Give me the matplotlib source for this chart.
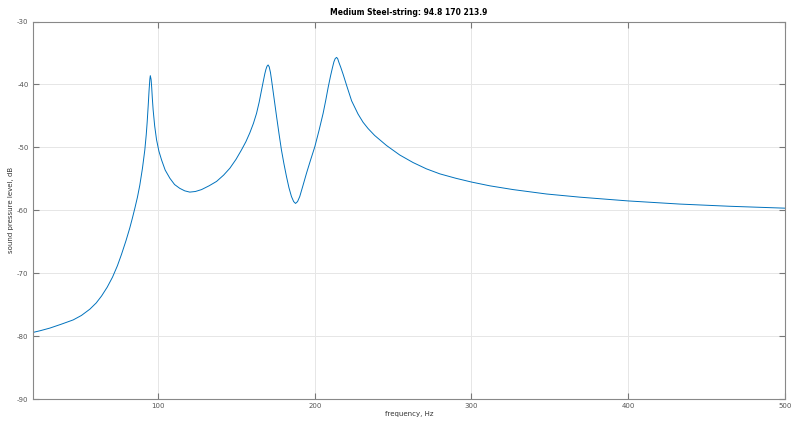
import matplotlib
matplotlib.use('Agg')
import matplotlib.pyplot as plt

plt.rcParams['axes.unicode_minus'] = False

# frequency (Hz) and sound pressure level (dB)
freq = [20, 25.0, 30.9, 38.0, 45.8, 51.0, 56.4, 60.5, 63.9, 67.5, 70.9, 74.0, 76.6,
        79.5, 81.9, 83.6, 85.2, 86.8, 88.3, 90.0, 91.5, 92.4, 93.0, 93.7, 94.2, 94.7,
        95.0, 95.5, 95.9, 96.3, 96.8, 97.8, 99.0, 100.5, 102.2, 104.5, 107.5, 110.5,
        113.8, 117.0, 120.2, 123.8, 127.7, 132.5, 137.3, 141.8, 145.8, 149.7, 153.2,
        156.0, 158.5, 160.8, 162.8, 164.5, 166.0, 167.2, 168.1, 168.8, 169.5, 170.2,
        170.9, 171.7, 172.4, 174.0, 175.6, 177.2, 178.7, 180.3, 181.9, 183.5, 185.1,
        186.5, 187.7, 189.0, 190.4, 192.4, 194.7, 197.3, 200.0, 202.7, 205.3, 207.0,
        208.5, 210.0, 211.2, 212.2, 213.0, 213.9, 214.6, 215.4, 216.6, 218.1, 220.5,
        223.5, 227.6, 230.8, 234.0, 238.2, 245.8, 254.2, 262.7, 271.2, 279.8,
        290.0, 300.0, 311.7, 326.6, 347.9, 369.1, 400.0, 433.0, 464.9, 500.0]
spl = [-79.4, -79.1, -78.7, -78.1, -77.4, -76.7, -75.7, -74.7, -73.6, -72.2, -70.6,
       -68.8, -67.0, -64.8, -62.8, -61.2, -59.6, -57.9, -56.0, -53.3, -50.4, -48.0,
       -46.0, -43.2, -41.0, -39.2, -38.6, -39.2, -40.5, -42.2, -44.0, -46.6, -48.8,
       -50.6, -52.0, -53.6, -54.9, -55.9, -56.5, -56.9, -57.1, -57.0, -56.7, -56.1,
       -55.4, -54.4, -53.3, -51.9, -50.4, -49.1, -47.7, -46.2, -44.6, -42.8, -40.9,
       -39.4, -38.3, -37.6, -37.1, -36.9, -37.2, -38.1, -39.3, -42.2, -45.1, -47.9,
       -50.4, -52.6, -54.6, -56.4, -57.8, -58.6, -58.9, -58.6, -57.8, -56.1, -54.1,
       -52.0, -49.9, -47.3, -44.6, -42.5, -40.5, -38.7, -37.4, -36.4, -35.9, -35.7,
       -35.9, -36.5, -37.3, -38.4, -40.3, -42.6, -44.7, -46.0, -47.0, -48.1, -49.7,
       -51.2, -52.4, -53.4, -54.2, -54.9, -55.5, -56.1, -56.7, -57.4, -57.9, -58.5,
       -59.0, -59.35, -59.65]

xticks = [100, 200, 300, 400, 500]
yticks = [-90, -80, -70, -60, -50, -40, -30]

fig = plt.figure(figsize=(8, 4.22), dpi=100)
ax = fig.add_axes([0.041, 0.054, 0.94, 0.895])
ax.plot(freq, spl, color='#0072bd', linewidth=0.7)

ax.set_xlim(20, 500)
ax.set_ylim(-90, -30)
ax.set_xticks(xticks)
ax.set_yticks(yticks)
ax.grid(True, color='#e6e6e6', linewidth=0.7)
ax.set_axisbelow(True)
ax.tick_params(direction='in', top=True, right=True, length=4, width=0.8,
               color='#777777', labelsize=5, labelcolor='#555555', pad=3)
for s in ax.spines.values():
    s.set_color('#888888')
    s.set_linewidth(0.8)

ax.set_title('Medium Steel-string: 94.8 170 213.9', fontsize=5.5, fontweight='bold', pad=5)
ax.set_xlabel('frequency, Hz', fontsize=5, color='#333333', labelpad=1)
ax.set_ylabel('sound pressure level, dB', fontsize=5, color='#333333', labelpad=2)

fig.savefig('out.png', dpi=100)
